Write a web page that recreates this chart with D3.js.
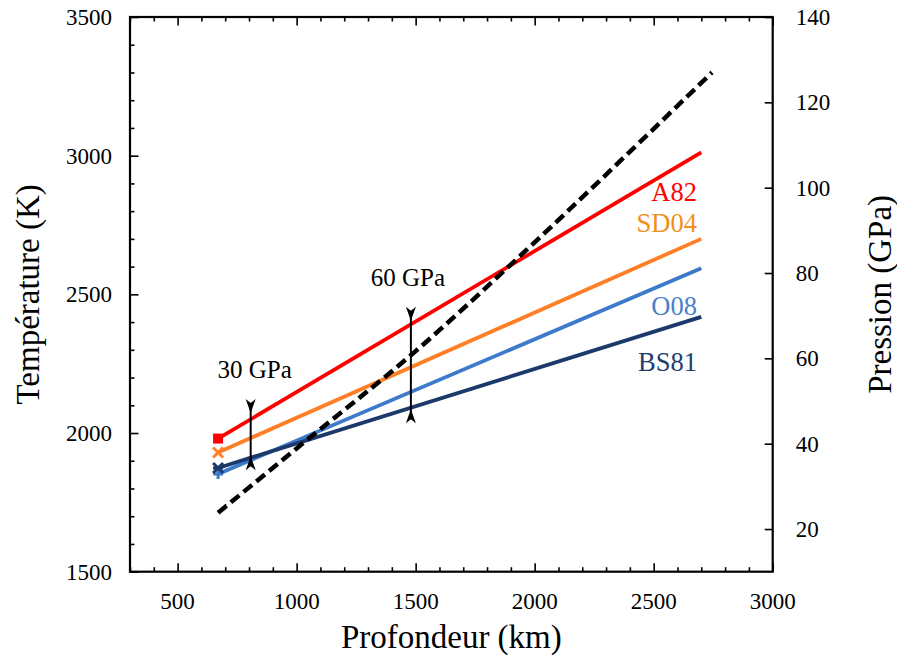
<!DOCTYPE html>
<html>
<head>
<meta charset="utf-8">
<script src="https://cdn.jsdelivr.net/npm/d3@7"></script>
<style>
  html, body { margin: 0; padding: 0; background: #fff; }
  svg { display: block; font-family: "Liberation Serif", "Times New Roman", serif; }
</style>
</head>
<body>
<svg id="chart" width="897" height="658"></svg>
<script>
// Geotherms: temperature (K) at the top and bottom of the lower mantle
const depthRange = [670, 2700];
const seriesNames = ["A82", "SD04", "O08", "BS81"];
const seriesTemps = [
  [1980, 3012],
  [1930, 2700],
  [1852, 2594],
  [1874, 2419]
];
const seriesColors = ["#ff0000", "#ff7f27", "#3d7acb", "#1b3a6b"];
const labelColors = ["#ff0000", "#f0901a", "#4a80c8", "#1f3d70"];
const seriesMarkers = ["square", "cross", "plus", "star"];

// Pressure profile (GPa) against depth (km), read on the right axis
const pressureDepth = [670, 1000, 1500, 2000, 2500, 2745];
const pressureValue = [23.8, 38.9, 61.7, 87.2, 113.8, 127.0];

// Pressure markers: depth and temperature span of each double arrow
const markerLabels = ["30 GPa", "60 GPa"];
const markerDepth = [807, 1480];
const markerTop = [2123, 2455];
const markerBottom = [1866, 2035];

// Axis ticks
const depthTicks = [500, 1000, 1500, 2000, 2500, 3000];
const tempTicks = [1500, 2000, 2500, 3000, 3500];
const pressTicks = [20, 40, 60, 80, 100, 120, 140];

const svg = d3.select("#chart");
const L = 130, R = 772.7, T = 17, B = 571.7;

const x = d3.scaleLinear().domain([300, 3000]).range([L, R]);
const yT = d3.scaleLinear().domain([1500, 3500]).range([B, T]);
const yP = d3.scaleLinear().domain([10, 140]).range([B, T]);

const minorDepth = d3.range(300, 3001, 100).filter(v => v % 500 !== 0);
const minorTemp = d3.range(1500, 3501, 100).filter(v => v % 500 !== 0);

const tickFont = 23;

// Bottom axis (ticks inward)
const gB = svg.append("g").attr("transform", `translate(0,${B})`);
gB.call(d3.axisBottom(x).tickValues(depthTicks).tickSize(-8.5).tickFormat(""));
gB.append("g").call(d3.axisBottom(x).tickValues(minorDepth).tickSize(-4.5).tickFormat(""));
// Top axis mirror
const gTop = svg.append("g").attr("transform", `translate(0,${T})`);
gTop.call(d3.axisTop(x).tickValues(depthTicks).tickSize(-8.5).tickFormat(""));
gTop.append("g").call(d3.axisTop(x).tickValues(minorDepth).tickSize(-4.5).tickFormat(""));
// Left axis (temperature)
const gL = svg.append("g").attr("transform", `translate(${L},0)`);
gL.call(d3.axisLeft(yT).tickValues(tempTicks).tickSize(-8.5).tickFormat(""));
gL.append("g").call(d3.axisLeft(yT).tickValues(minorTemp).tickSize(-4.5).tickFormat(""));
// Right axis (pressure)
const gR = svg.append("g").attr("transform", `translate(${R},0)`);
gR.call(d3.axisRight(yP).tickValues(pressTicks).tickSize(-8).tickFormat(""));

svg.selectAll(".domain").remove();
svg.selectAll(".tick line").attr("stroke", "#000").attr("stroke-width", 1.6);

// Frame
svg.append("rect")
  .attr("x", L).attr("y", T).attr("width", R - L).attr("height", B - T)
  .attr("fill", "none").attr("stroke", "#000").attr("stroke-width", 2.2);

// Tick labels
svg.append("g").selectAll("text").data(depthTicks).join("text")
  .attr("x", d => x(d)).attr("y", B + 37)
  .attr("text-anchor", "middle").attr("font-size", tickFont).text(d => d);
svg.append("g").selectAll("text").data(tempTicks).join("text")
  .attr("x", L - 18).attr("y", d => yT(d) + 8)
  .attr("text-anchor", "end").attr("font-size", tickFont).text(d => d);
svg.append("g").selectAll("text").data(pressTicks).join("text")
  .attr("x", R + 23).attr("y", d => yP(d) + 8)
  .attr("text-anchor", "start").attr("font-size", tickFont).text(d => d);

// Axis titles
svg.append("text").attr("x", (L + R) / 2).attr("y", 648)
  .attr("text-anchor", "middle").attr("font-size", 33).text("Profondeur (km)");
svg.append("text").attr("transform", `translate(39,${(T + B) / 2}) rotate(-90)`)
  .attr("text-anchor", "middle").attr("font-size", 33).text("Température (K)");
svg.append("text").attr("transform", `translate(891,${(T + B) / 2}) rotate(-90)`)
  .attr("text-anchor", "middle").attr("font-size", 33).text("Pression (GPa)");

// Geotherm lines
const line = d3.line().x(d => x(d[0])).y(d => yT(d[1]));
seriesNames.forEach((name, i) => {
  const pts = depthRange.map((d, j) => [d, seriesTemps[i][j]]);
  svg.append("path").datum(pts)
    .attr("d", line).attr("fill", "none")
    .attr("stroke", seriesColors[i]).attr("stroke-width", 3.8);
});

// Start markers
seriesNames.forEach((name, i) => {
  const cx = x(depthRange[0]), cy = yT(seriesTemps[i][0]);
  const c = seriesColors[i];
  const g = svg.append("g").attr("stroke", c).attr("stroke-width", 3).attr("fill", c);
  const s = 5;
  if (seriesMarkers[i] === "square") {
    g.append("rect").attr("x", cx - s).attr("y", cy - s).attr("width", 2 * s).attr("height", 2 * s).attr("stroke", "none");
  } else if (seriesMarkers[i] === "cross") {
    g.append("path").attr("d", `M${cx - s},${cy - s}L${cx + s},${cy + s}M${cx - s},${cy + s}L${cx + s},${cy - s}`);
  } else if (seriesMarkers[i] === "plus") {
    g.append("path").attr("d", `M${cx - s},${cy}L${cx + s},${cy}M${cx},${cy - s}L${cx},${cy + s}`);
  } else {
    g.append("path").attr("d", `M${cx - s},${cy - s}L${cx + s},${cy + s}M${cx - s},${cy + s}L${cx + s},${cy - s}M${cx - s},${cy}L${cx + s},${cy}`);
  }
});

// Pressure profile (dashed)
const pline = d3.line().x(d => x(d[0])).y(d => yP(d[1])).curve(d3.curveMonotoneX);
svg.append("path").datum(pressureDepth.map((d, i) => [d, pressureValue[i]]))
  .attr("d", pline).attr("fill", "none")
  .attr("stroke", "#000").attr("stroke-width", 4.5).attr("stroke-dasharray", "11,5.5");

// Series labels
const labelY = [201, 232, 315, 371];
seriesNames.forEach((name, i) => {
  svg.append("text").attr("x", 697).attr("y", labelY[i])
    .attr("text-anchor", "end").attr("font-size", 26.5)
    .attr("fill", labelColors[i]).text(name);
});

// Double arrows at 30 and 60 GPa
const labelDx = [4, -3];
markerLabels.forEach((lab, i) => {
  const ax = x(markerDepth[i]);
  const y0 = yT(markerTop[i]), y1 = yT(markerBottom[i]);
  svg.append("line").attr("x1", ax).attr("x2", ax).attr("y1", y0 + 4).attr("y2", y1 - 4)
    .attr("stroke", "#000").attr("stroke-width", 2);
  svg.append("path")
    .attr("d", `M${ax},${y0 + 4}L${ax - 5},${y0}L${ax},${y0 + 14}L${ax + 5},${y0}Z`)
    .attr("fill", "#000");
  svg.append("path")
    .attr("d", `M${ax},${y1 - 4}L${ax - 5},${y1}L${ax},${y1 - 14}L${ax + 5},${y1}Z`)
    .attr("fill", "#000");
  svg.append("text").attr("x", ax + labelDx[i]).attr("y", y0 - 21)
    .attr("text-anchor", "middle").attr("font-size", 25).text(lab);
});
</script>
</body>
</html>
